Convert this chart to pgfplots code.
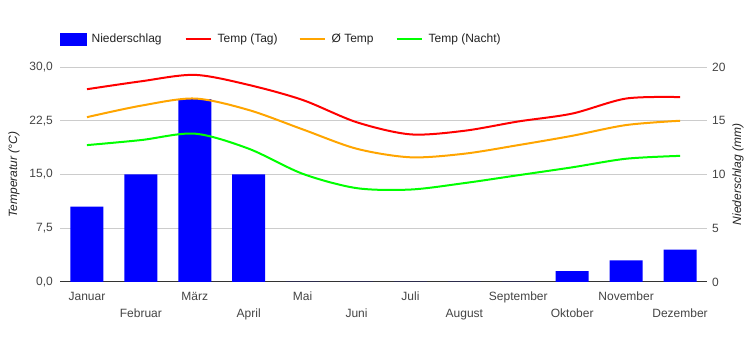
\documentclass[border=0pt]{standalone}
\usepackage{pgfplots}
\pgfplotsset{compat=1.18}
\usepackage{fontspec}
\setmainfont{Liberation Sans}
\definecolor{gridc}{HTML}{CCCCCC}
\definecolor{txt}{HTML}{444444}
\definecolor{legtxt}{HTML}{222222}
\definecolor{base}{HTML}{333333}
\definecolor{cbar}{HTML}{0000FF}
\definecolor{cred}{HTML}{FF0000}
\definecolor{corange}{HTML}{FFA500}
\definecolor{cgreen}{HTML}{00FF00}
\newcommand{\gap}[1]{\rule{#1}{0pt}}
\begin{document}
\fontsize{12pt}{14pt}\selectfont
\begin{tikzpicture}[x=1pt,y=1pt]
\useasboundingbox (0,0) rectangle (750,350);
\pgfplotsset{common/.style={
  scale only axis, width=647pt, height=215pt,
  at={(60pt,68pt)}, anchor=south west,
  xmin=-0.5, xmax=11.5, ymin=0,
  major tick length=0pt, minor tick num=0,
  axis line style={draw=none},
  tick label style={font=\fontsize{12pt}{14pt}\selectfont, text=txt},
  /pgf/number format/assume math mode=true,
}}
% precipitation (right axis), drawn first
\begin{axis}[common,
  ymax=20, ytick={5,10,15,20},
  extra y ticks={0},
  extra y tick style={grid style={draw=base, line width=1pt}},
  yticklabel pos=right,
  yticklabel style={xshift=1pt},
  ymajorgrids, grid style={draw=gridc, line width=0.8pt},
  xtick={0,2,4,6,8,10},
  xticklabels={Januar,März,Mai,Juli,September,November},
  extra x ticks={1,3,5,7,9,11},
  extra x tick labels={Februar,April,Juni,August,Oktober,Dezember},
  extra x tick style={xticklabel style={yshift=-17pt}, xmajorgrids=false},
  xticklabel style={yshift=-6pt},
  ylabel={Niederschlag (mm)},
  ylabel style={at={(axis description cs:1.048,0.5)}, anchor=center,
    font=\itshape\fontsize{12pt}{14pt}\selectfont, text=legtxt},
]
\addplot[ybar, bar width=33pt, fill=cbar, draw=none] coordinates {
 (0,7) (1,10) (2,17) (3,10) (4,0) (5,0) (6,0) (7,0) (8,0) (9,1) (10,2) (11,3)};
\end{axis}
% temperature (left axis), drawn on top
\begin{axis}[common,
  ymax=30, ytick={0,7.5,15,22.5,30},
  yticklabel pos=left,
  yticklabel style={xshift=-3pt, /pgf/number format/.cd, fixed, fixed zerofill, precision=1, use comma},
  xtick=\empty,
  ylabel={Temperatur (°C)},
  ylabel style={at={(axis description cs:-0.0711,0.5)}, anchor=center,
    font=\itshape\fontsize{12pt}{14pt}\selectfont, text=legtxt},
  legend columns=4,
  legend style={at={(axis description cs:0,1)}, anchor=west, yshift=28pt,
    draw=none, fill=none, inner sep=0pt, column sep=0pt,
    nodes={inner sep=0pt, text=legtxt}, font=\fontsize{12pt}{14pt}\selectfont},
  legend image code/.code={\draw[#1] (0pt,0pt) -- (25pt,0pt);},
]
\addlegendimage{legend image code/.code={\fill[cbar] (0pt,-6pt) rectangle (26pt,6pt);}}
\addlegendentry{\gap{5pt}Niederschlag\gap{23pt}}
\addplot[cred, line width=2pt, smooth, tension=0.5] coordinates {
 (0,26.9) (1,28.0) (2,28.9) (3,27.5) (4,25.4) (5,22.3) (6,20.6) (7,21.1) (8,22.4) (9,23.5) (10,25.6) (11,25.8)};
\addlegendentry{\gap{6pt}Temp (Tag)\gap{21pt}}
\addplot[corange, line width=2pt, smooth, tension=0.5] coordinates {
 (0,23.0) (1,24.6) (2,25.6) (3,24.0) (4,21.3) (5,18.6) (6,17.4) (7,17.9) (8,19.1) (9,20.4) (10,21.9) (11,22.5)};
\addlegendentry{\gap{6pt}Ø Temp\gap{22pt}}
\addplot[cgreen, line width=2pt, smooth, tension=0.5] coordinates {
 (0,19.1) (1,19.8) (2,20.7) (3,18.6) (4,15.1) (5,13.1) (6,12.9) (7,13.8) (8,14.9) (9,16.0) (10,17.2) (11,17.6)};
\addlegendentry{\gap{6pt}Temp (Nacht)}
\end{axis}
\end{tikzpicture}
\end{document}
